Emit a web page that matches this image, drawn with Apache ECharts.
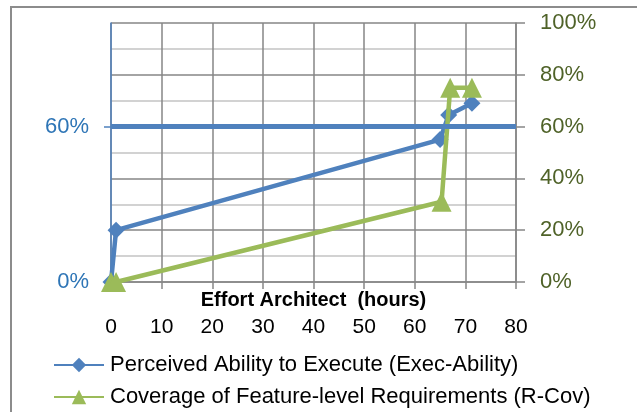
<!DOCTYPE html>
<html><head><meta charset="utf-8">
<script src="https://cdn.jsdelivr.net/npm/echarts@6/dist/echarts.min.js"></script>
<style>html,body{margin:0;padding:0;background:#fff}#c{width:637px;height:412px}</style>
</head><body><div id="c"></div>
<script>
var hours = [0, 1, 65, 66.7, 71.3];
var execAbility = [0, 0.20, 0.55, 0.645, 0.69];
var hoursCov = [0, 1, 65.3, 67, 71.3];
var rCov = [0, 0, 0.31, 0.75, 0.75];
var threshold = 0.6;
var xTicks = [0, 10, 20, 30, 40, 50, 60, 70, 80];
var leftTicks = [0, 0.6];
var rightTicks = [0, 0.2, 0.4, 0.6, 0.8, 1.0];
var names = ['Perceived Ability to Execute (Exec-Ability)', 'Coverage of Feature-level Requirements (R-Cov)'];

var FONT = 'Liberation Sans';
var chart = echarts.init(document.getElementById('c'), null, {renderer: 'canvas'});
function pct(v){ return Math.round(v*100) + '%'; }
chart.setOption({
  animation: false,
  backgroundColor: '#fff',
  textStyle: {fontFamily: FONT},
  graphic: [{type: 'rect', shape: {x: 11, y: 7, width: 700, height: 500}, style: {fill: 'none', stroke: '#8c8c8c', lineWidth: 2}, silent: true, z: -1}],
  grid: {left: 111, right: 121, top: 23, bottom: 130, containLabel: false},
  legend: {
    orient: 'vertical', left: 53, top: 354, itemGap: 10, itemWidth: 50, itemHeight: 18, padding: 0,
    textStyle: {fontSize: 22, color: '#000', fontFamily: FONT, padding: [0, 0, 0, 1]},
    data: names
  },
  xAxis: {
    type: 'value', min: 0, max: 80, interval: 10,
    name: 'Effort Architect  (hours)', nameLocation: 'middle', nameGap: 8, nameMoveOverlap: false,
    nameTextStyle: {fontSize: 20, fontWeight: 'bold', color: '#000', fontFamily: FONT},
    axisLine: {show: true, lineStyle: {color: '#868686', width: 1.5}},
    axisTick: {show: true, inside: false, length: 7, lineStyle: {color: '#868686', width: 1.5}},
    axisLabel: {fontSize: 21, color: '#000', margin: 35, customValues: xTicks},
    splitLine: {show: true, lineStyle: {color: '#868686', width: 1.5}}
  },
  yAxis: [{
    type: 'value', min: 0, max: 1, position: 'left',
    axisLine: {show: true, onZero: false, lineStyle: {color: '#4f81bd', width: 1.5}},
    axisTick: {show: true, length: 7, customValues: leftTicks, lineStyle: {color: '#4f81bd', width: 1.5}},
    axisLabel: {fontSize: 22, color: '#2e75b6', margin: 22, formatter: pct, customValues: leftTicks},
    splitLine: {show: false}
  }, {
    type: 'value', min: 0, max: 1, interval: 0.2, position: 'right',
    axisLine: {show: true, onZero: false, lineStyle: {color: '#868686', width: 1.5}},
    axisTick: {show: true, length: 9, lineStyle: {color: '#868686', width: 1.5}},
    axisLabel: {fontSize: 22, color: '#4f6228', margin: 24, formatter: pct, customValues: rightTicks},
    splitLine: {show: true, lineStyle: {color: '#868686', width: 1.5}},
    minorTick: {show: false, splitNumber: 2},
    minorSplitLine: {show: true, lineStyle: {color: '#c4c4c4', width: 1.5}}
  }],
  series: [{
    name: names[0], type: 'line', yAxisIndex: 0,
    data: hours.map(function(h, i){ return [h, execAbility[i]]; }),
    symbol: 'diamond', symbolSize: 17, showAllSymbol: true,
    lineStyle: {color: '#4f81bd', width: 4.5}, itemStyle: {color: '#4f81bd'},
    markLine: {silent: true, symbol: 'none', label: {show: false},
      lineStyle: {color: '#4f81bd', width: 5, type: 'solid'},
      data: [{yAxis: threshold}]}, z: 3
  }, {
    name: names[1], type: 'line', yAxisIndex: 0,
    data: hoursCov.map(function(h, i){ return [h, rCov[i]]; }),
    symbol: 'triangle', symbolSize: 20, showAllSymbol: true,
    lineStyle: {color: '#9bbb59', width: 4.5}, itemStyle: {color: '#9bbb59'}, z: 4
  }]
});
</script></body></html>
